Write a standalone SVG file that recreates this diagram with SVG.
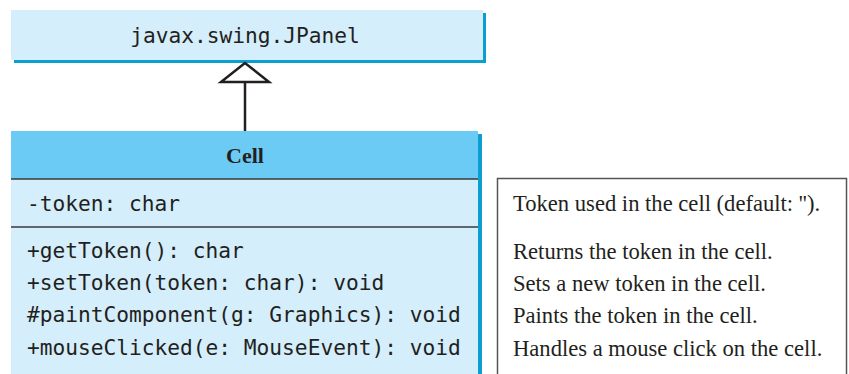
<svg xmlns="http://www.w3.org/2000/svg" width="849" height="374" viewBox="0 0 849 374">
<style>
.mono{font-family:"DejaVu Sans Mono","Liberation Mono",monospace;font-size:21.2px;fill:#231f20}
.serif{font-family:"Liberation Serif","Times New Roman",serif;font-size:22.6px;fill:#231f20}
.light{fill:#d4eefb}
.shadow{fill:#0a9fd0}
.sep{stroke:#3a3a3a;stroke-width:1.5}
</style>
<g id="jpanel">
<rect class="shadow" x="14" y="13" width="472" height="50"/>
<rect class="light" x="11" y="10" width="472" height="50"/>
<text class="mono" x="245" y="43" text-anchor="middle">javax.swing.JPanel</text>
</g>
<g id="cell">
<rect class="shadow" x="14" y="134" width="468" height="240"/>
<rect class="light" x="11" y="131" width="467" height="243"/>
<rect x="11" y="131" width="467" height="48" fill="#6ccbf5"/>
<line class="sep" x1="11" y1="179" x2="478" y2="179"/>
<line class="sep" x1="11" y1="227" x2="478" y2="227"/>
<text x="245" y="163" text-anchor="middle" style="font-family:'Liberation Serif',serif;font-size:22px;font-weight:bold;fill:#231f20">Cell</text>
<text class="mono" x="27" y="211">-token: char</text>
<text class="mono" x="27" y="258">+getToken(): char</text>
<text class="mono" x="27" y="290">+setToken(token: char): void</text>
<text class="mono" x="27" y="322">#paintComponent(g: Graphics): void</text>
<text class="mono" x="27" y="355">+mouseClicked(e: MouseEvent): void</text>
</g>
<g id="notes">
<rect x="497.5" y="178.5" width="349" height="200" fill="#fff" stroke="#555" stroke-width="1.5"/>
<text class="serif" x="513" y="211">Token used in the cell (default: '').</text>
<text class="serif" x="513" y="259">Returns the token in the cell.</text>
<text class="serif" x="513" y="291">Sets a new token in the cell.</text>
<text class="serif" x="513" y="323">Paints the token in the cell.</text>
<text class="serif" x="513" y="356">Handles a mouse click on the cell.</text>
</g>
<g id="connectors">
<line x1="245" y1="82" x2="245" y2="131" stroke="#231f20" stroke-width="2.5"/>
<polygon points="245,63 221,82 269,82" fill="#fff" stroke="#231f20" stroke-width="2.5"/>
</g>
</svg>
